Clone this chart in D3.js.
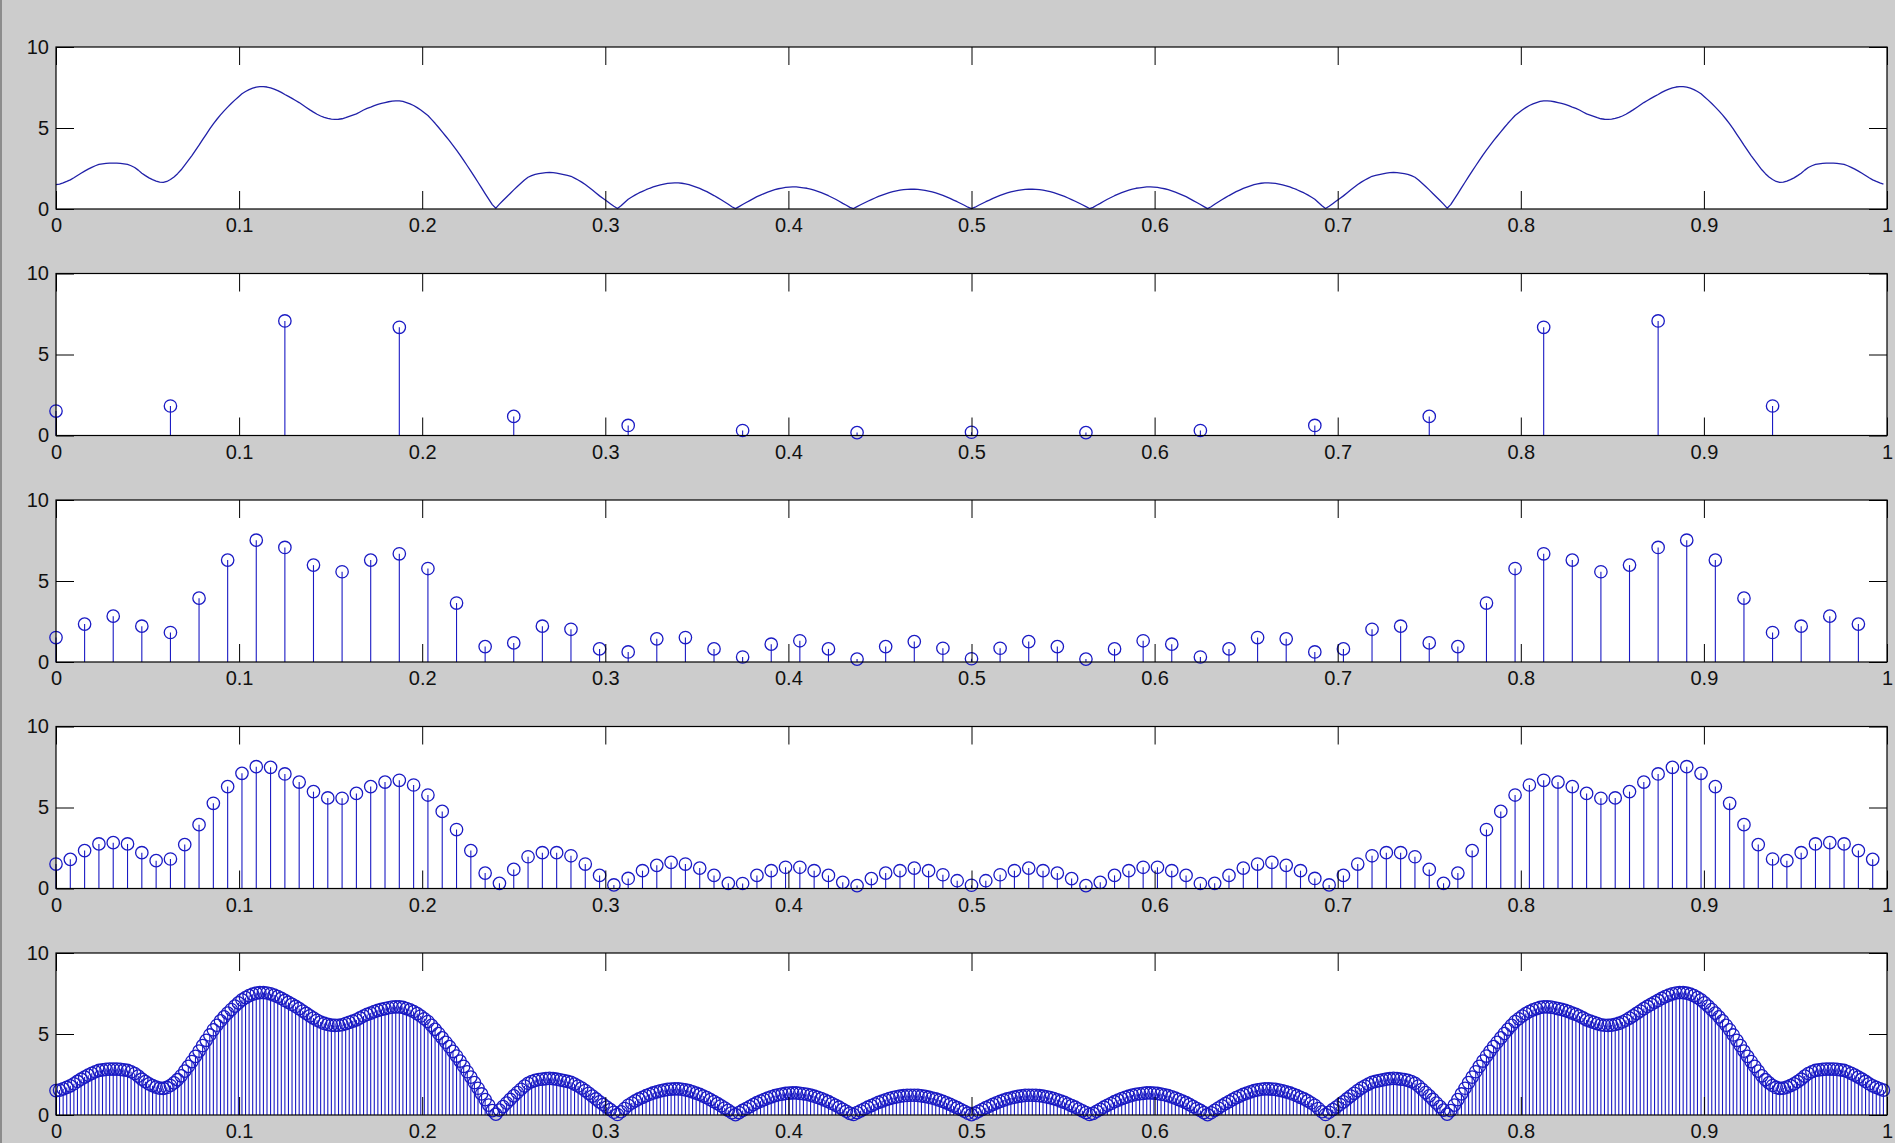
<!DOCTYPE html>
<html>
<head>
<meta charset="utf-8">
<script src="https://cdn.jsdelivr.net/npm/d3@7"></script>
<style>
  html, body { margin: 0; padding: 0; background: #cccccc; overflow: hidden; }
  svg { display: block; }
  .tick text { font-family: "Liberation Sans", Arial, sans-serif; font-size: 20px; fill: #111; }
</style>
</head>
<body>
<svg id="fig" width="1895" height="1143"></svg>
<script>
// |X| of the 16-sample sequence, sampled with 16, 64, 128 and 512 frequency points (f = k/N)
const mag16 = [1.51,1.82,7.07,6.68,1.18,0.62,0.31,0.18,0.20,0.18,0.31,0.62,1.18,6.68,7.07,1.82];

const mag64 = [
  1.51,2.34,2.83,2.21,1.82,3.94,6.29,7.52,7.07,5.98,5.57,6.29,6.68,5.77,3.64,0.95,
  1.18,2.21,2.02,0.81,0.62,1.43,1.51,0.81,0.31,1.10,1.31,0.81,0.18,0.95,1.26,0.85,
  0.20,0.85,1.26,0.95,0.18,0.81,1.31,1.10,0.31,0.81,1.51,1.43,0.62,0.81,2.02,2.21,
  1.18,0.95,3.64,5.77,6.68,6.29,5.57,5.98,7.07,7.52,6.29,3.94,1.82,2.21,2.83,2.34
];

const mag128 = [
  1.51,1.80,2.34,2.75,2.83,2.75,2.21,1.72,1.82,2.71,3.94,5.26,6.29,7.11,7.52,7.48,
  7.07,6.57,5.98,5.59,5.57,5.87,6.29,6.57,6.68,6.39,5.77,4.76,3.64,2.34,0.95,0.32,
  1.18,1.96,2.21,2.21,2.02,1.51,0.81,0.22,0.62,1.10,1.43,1.61,1.51,1.26,0.81,0.32,
  0.31,0.81,1.10,1.31,1.31,1.10,0.81,0.38,0.18,0.61,0.95,1.10,1.26,1.10,0.85,0.48,
  0.20,0.48,0.85,1.10,1.26,1.10,0.95,0.61,0.18,0.38,0.81,1.10,1.31,1.31,1.10,0.81,
  0.31,0.32,0.81,1.26,1.51,1.61,1.43,1.10,0.62,0.22,0.81,1.51,2.02,2.21,2.21,1.96,
  1.18,0.32,0.95,2.34,3.64,4.76,5.77,6.39,6.68,6.57,6.29,5.87,5.57,5.59,5.98,6.57,
  7.07,7.48,7.52,7.11,6.29,5.26,3.94,2.71,1.82,1.72,2.21,2.75,2.83,2.75,2.34,1.80
];

const mag512 = [
  1.51,1.54,1.61,1.70,1.80,1.93,2.07,2.21,2.34,2.46,2.57,2.67,2.75,2.79,2.82,2.83,
  2.83,2.83,2.82,2.79,2.75,2.67,2.56,2.40,2.21,2.06,1.92,1.81,1.72,1.66,1.64,1.70,
  1.82,1.98,2.18,2.42,2.71,3.00,3.30,3.62,3.94,4.28,4.61,4.94,5.26,5.54,5.81,6.06,
  6.29,6.51,6.72,6.92,7.11,7.25,7.37,7.46,7.52,7.55,7.56,7.53,7.48,7.40,7.31,7.20,
  7.07,6.95,6.83,6.70,6.57,6.42,6.27,6.12,5.98,5.85,5.74,5.65,5.59,5.55,5.53,5.54,
  5.57,5.64,5.72,5.80,5.87,5.99,6.11,6.21,6.29,6.38,6.46,6.52,6.57,6.62,6.66,6.68,
  6.68,6.64,6.57,6.49,6.39,6.26,6.11,5.94,5.77,5.53,5.29,5.03,4.76,4.49,4.22,3.93,
  3.64,3.33,3.00,2.67,2.34,2.00,1.65,1.30,0.95,0.61,0.27,0.05,0.30,0.52,0.74,0.96,
  1.18,1.39,1.59,1.79,1.96,2.06,2.14,2.19,2.22,2.25,2.26,2.24,2.21,2.17,2.12,2.07,
  2.02,1.91,1.79,1.66,1.51,1.34,1.17,0.99,0.81,0.65,0.49,0.33,0.17,0.03,0.20,0.40,
  0.60,0.74,0.87,0.99,1.09,1.19,1.28,1.36,1.43,1.49,1.54,1.58,1.60,1.61,1.61,1.59,
  1.55,1.50,1.43,1.35,1.27,1.17,1.07,0.95,0.83,0.70,0.57,0.43,0.29,0.14,0.02,0.15,
  0.28,0.40,0.52,0.64,0.76,0.86,0.95,1.04,1.12,1.19,1.25,1.29,1.33,1.35,1.36,1.36,
  1.34,1.31,1.28,1.23,1.16,1.09,1.01,0.92,0.82,0.71,0.60,0.48,0.35,0.23,0.10,0.03,
  0.15,0.26,0.37,0.48,0.58,0.68,0.78,0.86,0.94,1.01,1.07,1.12,1.16,1.19,1.21,1.22,
  1.22,1.21,1.18,1.15,1.10,1.05,0.99,0.92,0.84,0.75,0.66,0.55,0.45,0.34,0.23,0.11,
  0.02,
  0.11,0.23,0.34,0.45,0.55,0.66,0.75,0.84,0.92,0.99,1.05,1.10,1.15,1.18,1.21,1.22,
  1.22,1.21,1.19,1.16,1.12,1.07,1.01,0.94,0.86,0.78,0.68,0.58,0.48,0.37,0.26,0.15,
  0.03,0.10,0.23,0.35,0.48,0.60,0.71,0.82,0.92,1.01,1.09,1.16,1.23,1.28,1.31,1.34,
  1.36,1.36,1.35,1.33,1.29,1.25,1.19,1.12,1.04,0.95,0.86,0.76,0.64,0.52,0.40,0.28,
  0.15,0.02,0.14,0.29,0.43,0.57,0.70,0.83,0.95,1.07,1.17,1.27,1.35,1.43,1.50,1.55,
  1.59,1.61,1.61,1.60,1.58,1.54,1.49,1.43,1.36,1.28,1.19,1.09,0.99,0.87,0.74,0.60,
  0.40,0.20,0.03,0.17,0.33,0.49,0.65,0.81,0.99,1.17,1.34,1.51,1.66,1.79,1.91,2.02,
  2.07,2.12,2.17,2.21,2.24,2.26,2.25,2.22,2.19,2.14,2.06,1.96,1.79,1.59,1.39,1.18,
  0.96,0.74,0.52,0.30,0.05,0.27,0.61,0.95,1.30,1.65,2.00,2.34,2.67,3.00,3.33,3.64,
  3.93,4.22,4.49,4.76,5.03,5.29,5.53,5.77,5.94,6.11,6.26,6.39,6.49,6.57,6.64,6.68,
  6.68,6.66,6.62,6.57,6.52,6.46,6.38,6.29,6.21,6.11,5.99,5.87,5.80,5.72,5.64,5.57,
  5.54,5.53,5.55,5.59,5.65,5.74,5.85,5.98,6.12,6.27,6.42,6.57,6.70,6.83,6.95,7.07,
  7.20,7.31,7.40,7.48,7.53,7.56,7.55,7.52,7.46,7.37,7.25,7.11,6.92,6.72,6.51,6.29,
  6.06,5.81,5.54,5.26,4.94,4.61,4.28,3.94,3.62,3.30,3.00,2.71,2.42,2.18,1.98,1.82,
  1.70,1.64,1.66,1.72,1.81,1.92,2.06,2.21,2.40,2.56,2.67,2.75,2.79,2.82,2.83,2.83,
  2.83,2.82,2.79,2.75,2.67,2.57,2.46,2.34,2.21,2.07,1.93,1.80,1.70,1.61,1.54
];

const xTickValues = [0, 0.1, 0.2, 0.3, 0.4, 0.5, 0.6, 0.7, 0.8, 0.9, 1];
const xTickLabels = ["0", "0.1", "0.2", "0.3", "0.4", "0.5", "0.6", "0.7", "0.8", "0.9", "1"];
const yTickValues = [0, 5, 10];
const yTickLabels = ["0", "5", "10"];

// Five stacked axes: continuous curve on top, then stem plots of growing length
const panels = [
  { data: mag512, kind: "line" },
  { data: mag16,  kind: "stem" },
  { data: mag64,  kind: "stem" },
  { data: mag128, kind: "stem" },
  { data: mag512, kind: "stem" }
];

const W = 1895, H = 1143;
const left = 56, right = 1887;
const top0 = 47, panelH = 162, panelStep = 226.5;
const tickLen = 18;
const lineBlue = "#2020a8";
const stemBlue = "#1a1ac4";

const svg = d3.select("#fig");
svg.append("rect").attr("width", W).attr("height", H).attr("fill", "#cccccc");
svg.append("rect").attr("x", 0).attr("y", 0).attr("width", 2).attr("height", H).attr("fill", "#8c8c8c");

const x = d3.scaleLinear().domain([0, 1]).range([left, right]);

panels.forEach((p, i) => {
  const y0 = top0 + i * panelStep;
  const y = d3.scaleLinear().domain([0, 10]).range([y0 + panelH, y0]);
  const g = svg.append("g");

  g.append("rect")
    .attr("x", left).attr("y", y0)
    .attr("width", right - left).attr("height", panelH)
    .attr("fill", "#ffffff");

  const pts = p.data.map((v, k) => ({ f: k / p.data.length, v }));

  if (p.kind === "line") {
    g.append("path")
      .datum(pts)
      .attr("d", d3.line().x(d => x(d.f)).y(d => y(d.v)))
      .attr("fill", "none")
      .attr("stroke", lineBlue)
      .attr("stroke-width", 1.3)
      .attr("stroke-linejoin", "round");
  } else {
    g.append("g").selectAll("line")
      .data(pts)
      .join("line")
      .attr("x1", d => x(d.f)).attr("x2", d => x(d.f))
      .attr("y1", y(0)).attr("y2", d => y(d.v))
      .attr("stroke", stemBlue)
      .attr("stroke-width", 1.1);
    g.append("g").selectAll("circle")
      .data(pts)
      .join("circle")
      .attr("cx", d => x(d.f))
      .attr("cy", d => y(d.v))
      .attr("r", 6.2)
      .attr("fill", "none")
      .attr("stroke", stemBlue)
      .attr("stroke-width", 1.3);
  }

  // inward ticks on all four sides, labels on bottom and left
  const clean = s => s.select(".domain").remove();
  g.append("g")
    .attr("transform", `translate(0,${y0 + panelH})`)
    .attr("color", "#000")
    .call(d3.axisBottom(x).tickValues(xTickValues)
      .tickFormat((d, j) => xTickLabels[j])
      .tickSizeInner(-tickLen).tickSizeOuter(0).tickPadding(9))
    .call(clean);
  g.append("g")
    .attr("transform", `translate(0,${y0})`)
    .attr("color", "#000")
    .call(d3.axisTop(x).tickValues(xTickValues).tickFormat("")
      .tickSizeInner(-tickLen).tickSizeOuter(0))
    .call(clean);
  g.append("g")
    .attr("transform", `translate(${left},0)`)
    .attr("color", "#000")
    .call(d3.axisLeft(y).tickValues(yTickValues)
      .tickFormat((d, j) => yTickLabels[j])
      .tickSizeInner(-tickLen).tickSizeOuter(0).tickPadding(7))
    .call(clean);
  g.append("g")
    .attr("transform", `translate(${right},0)`)
    .attr("color", "#000")
    .call(d3.axisRight(y).tickValues(yTickValues).tickFormat("")
      .tickSizeInner(-tickLen).tickSizeOuter(0))
    .call(clean);

  g.append("rect")
    .attr("x", left).attr("y", y0)
    .attr("width", right - left).attr("height", panelH)
    .attr("fill", "none")
    .attr("stroke", "#000")
    .attr("stroke-width", 1.2);
});
</script>
</body>
</html>
